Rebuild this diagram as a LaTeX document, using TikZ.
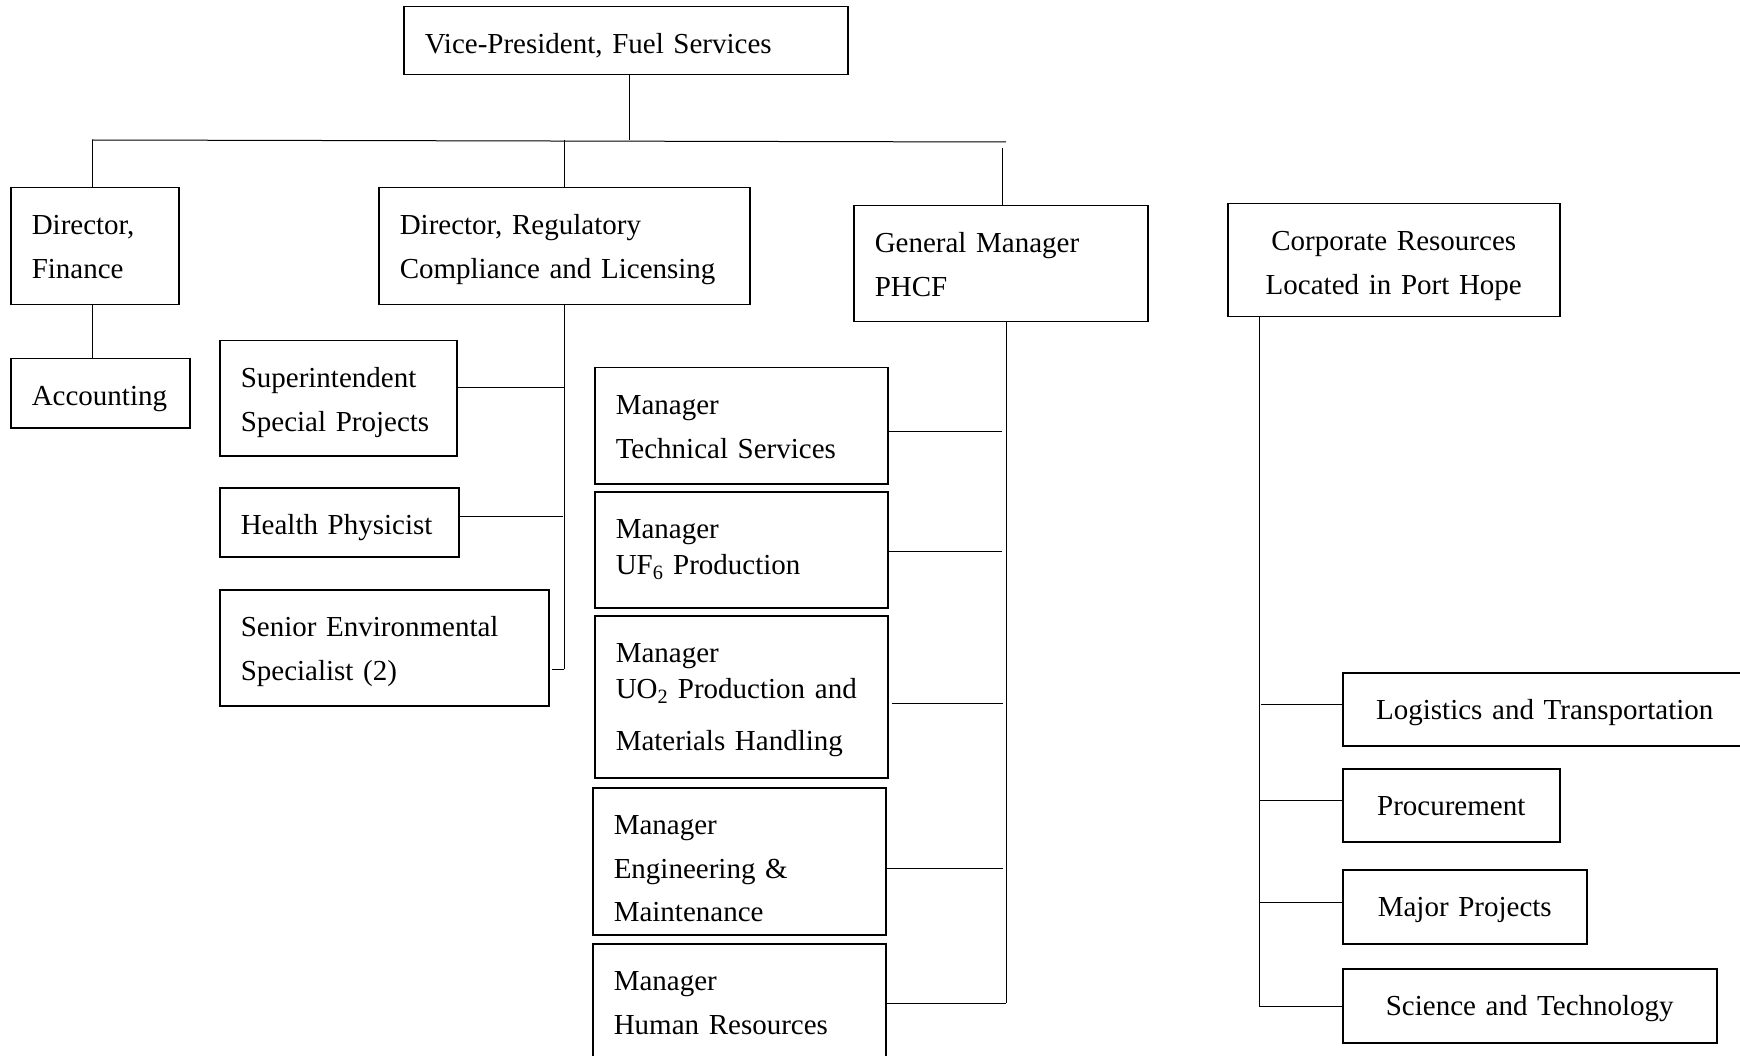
\documentclass[tikz,border=0pt]{standalone}
\usepackage{fontspec}
\setmainfont{Liberation Serif}
\newcommand{\orgfont}{\fontsize{29}{43.5}\selectfont\hyphenpenalty=10000\exhyphenpenalty=10000}
\tikzset{
  box/.style n args={4}{draw, line width=1.5pt, rectangle, anchor=north west, inner ysep=0pt,
    inner xsep=21pt, align=left, font=\orgfont,
    minimum width=#1, text width=#2, minimum height=#3,
    execute at begin node={\rule{0pt}{47pt}},
    execute at end node={\rule[-#4pt]{0pt}{#4pt}}},
  conn/.style={line width=1pt},
}
\begin{document}
\begin{tikzpicture}[x=1pt,y=-1pt]
\useasboundingbox (0,0) rectangle (1740,1056);
% top
\node[box={444}{402}{68}{21}] (VP) at (403,6) {Vice-President, Fuel Services};
% directors
\node[box={168}{126}{117}{26.5}] (Fin) at (10,187) {Director,\\Finance};
\node[box={371}{329}{117}{26.5}] (Reg) at (378,187) {Director, Regulatory\\Compliance and Licensing};
\node[box={294}{252}{116}{25.5}] (GM) at (853,205) {General Manager\\PHCF};
\node[box={332}{290}{113}{22.5}, align=center] (Corp) at (1227,203) {Corporate Resources\\Located in Port Hope};
% finance
\node[box={179}{137}{69}{22}] (Acc) at (10,358) {Accounting};
% regulatory
\node[box={237}{195}{115}{24.5}] (Sup) at (219,340) {Superintendent\\Special Projects};
\node[box={239}{197}{69}{22}] (HP) at (219,487) {Health Physicist};
\node[box={329}{287}{116}{25.5}] (SE) at (219,589) {Senior Environmental\\Specialist (2)};
% managers
\node[box={293}{251}{116}{25.5}] (Tech) at (594,367) {Manager\\Technical Services};
\node[box={293}{251}{116}{33}] (UF) at (594,491) {Manager\\[-7.5pt]UF\textsubscript{6} Production};
\node[box={293}{251}{162}{27}] (UO) at (594,615) {Manager\\[-7.5pt]UO\textsubscript{2} Production and\\[8.5pt]Materials Handling};
\node[box={293}{251}{147}{13}] (Eng) at (592,787) {Manager\\Engineering \&\\Maintenance};
\node[box={293}{251}{130}{39.5}] (HR) at (592,943) {Manager\\Human Resources};
% corporate
\node[box={404}{394}{73}{26}, align=center, inner xsep=5pt] (Log) at (1342,672) {Logistics and Transportation};
\node[box={217}{207}{73}{26}, align=center, inner xsep=5pt] (Proc) at (1342,768) {Procurement};
\node[box={244}{234}{74}{27}, align=center, inner xsep=5pt] (Maj) at (1342,869) {Major Projects};
\node[box={374}{364}{74}{27}, align=center, inner xsep=5pt] (Sci) at (1342,968) {Science and Technology};
% coordinates
\coordinate (j0) at (629,140);
\coordinate (busL) at (92,140);
\coordinate (busR) at (1006,142);
\coordinate (jReg) at (564,140);
\coordinate (jGM) at (1002,148);
\coordinate (regB) at (564,669);
\coordinate (rSup) at (564,388);
\coordinate (rHP) at (563,516);
\coordinate (gmB) at (1006,1003);
\coordinate (gTech) at (1002,431);
\coordinate (gUF) at (1002,551);
\coordinate (gUO) at (1003,703);
\coordinate (gEng) at (1003,868);
\coordinate (crB) at (1259,1006);
\coordinate (cLog) at (1261,704);
\coordinate (cProc) at (1259,800);
\coordinate (cMaj) at (1259,902);
% connectors
\draw[conn] (VP.south -| j0) -- (j0);
\draw[conn] (busL) -- (busR);
\draw[conn] (busL) -- (busL |- Fin.north);
\draw[conn] (jReg) -- (jReg |- Reg.north);
\draw[conn] (jGM) -- (jGM |- GM.north);
\draw[conn] (Fin.south -| busL) -- (Acc.north -| busL);
\draw[conn] (Reg.south -| regB) -- (regB);
\draw[conn] (rSup) -- (rSup -| Sup.east);
\draw[conn] (rHP) -- (rHP -| HP.east);
\draw[conn] (regB) -- ([xshift=2pt]regB -| SE.east);
\draw[conn] (GM.south -| gmB) -- (gmB);
\draw[conn] (Tech.east |- gTech) -- (gTech);
\draw[conn] (UF.east |- gUF) -- (gUF);
\draw[conn] ([xshift=3pt]UO.east |- gUO) -- (gUO);
\draw[conn] (Eng.east |- gEng) -- (gEng);
\draw[conn] (HR.east |- gmB) -- (gmB);
\draw[conn] (Corp.south -| crB) -- (crB);
\draw[conn] (cLog) -- (cLog -| Log.west);
\draw[conn] (cProc) -- (cProc -| Proc.west);
\draw[conn] (cMaj) -- (cMaj -| Maj.west);
\draw[conn] (crB) -- (crB -| Sci.west);
\end{tikzpicture}
\end{document}
